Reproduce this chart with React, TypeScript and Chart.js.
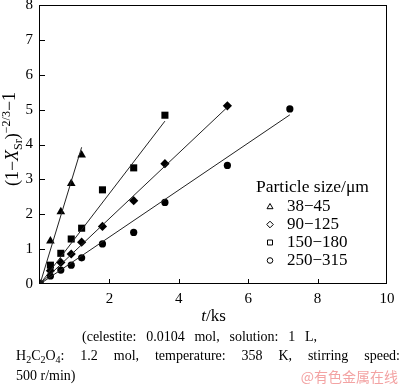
import React, { useEffect, useRef } from "react";
import { Chart, registerables } from "chart.js";

Chart.register(...registerables);

// ---- data ----
const timeKs = [0, 0.3, 0.6, 0.9, 1.2, 1.8, 2.7, 3.6, 5.4, 7.2];
const size38_45 = [0, 1.23, 2.07, 2.88, 3.7];
const size90_125 = [0, 0.38, 0.62, 0.86, 1.2, 1.65, 2.39, 3.45, 5.11];
const size150_180 = [0, 0.54, 0.88, 1.29, 1.6, 2.7, 3.33, 4.84];
const size250_315 = [0, 0.23, 0.4, 0.54, 0.75, 1.15, 1.48, 2.34, 3.4, 5.02];
const seriesLabels = ["38\u221245", "90\u2212125", "150\u2212180", "250\u2212315"];
// fitted straight lines: start at origin, end points
const fitEndX = [1.2, 5.4, 3.6, 7.2];
const fitEndY = [3.92, 5.07, 4.67, 4.85];
const xTicks = [0, 2, 4, 6, 8, 10];
const yTicks = [0, 1, 2, 3, 4, 5, 6, 7, 8];

const SERIF = "'Liberation Serif', 'Times New Roman', serif";

export default function App() {
  const ref = useRef<HTMLCanvasElement>(null);

  useEffect(() => {
    const canvas = ref.current;
    if (!canvas) return;
    const series = [size38_45, size90_125, size150_180, size250_315];
    const shapes = ["triangle", "rectRot", "rect", "circle"];
    const radii = [5, 4.6, 5, 3.6];

    const pointSets = series.map((ys, i) => ({
      label: seriesLabels[i],
      data: ys.map((y, k) => ({ x: timeKs[k], y })),
      showLine: false,
      pointStyle: shapes[i],
      pointRadius: radii[i],
      pointBackgroundColor: "#000",
      pointBorderColor: "#000",
      pointBorderWidth: 0,
    }));
    const lineSets = series.map((_, i) => ({
      label: "fit " + seriesLabels[i],
      data: [
        { x: 0, y: 0 },
        { x: fitEndX[i], y: fitEndY[i] },
      ],
      showLine: true,
      borderColor: "#222",
      borderWidth: 1,
      pointRadius: 0,
    }));

    const overlay = {
      id: "overlay",
      afterDraw(chart: any) {
        const { ctx, chartArea: a, scales } = chart;
        const xs = scales.x;
        const ys = scales.y;
        const L = Math.round(a.left);
        const R = Math.round(a.right);
        const T = Math.round(a.top);
        const B = Math.round(a.bottom);
        ctx.save();
        ctx.strokeStyle = "#000";
        ctx.lineWidth = 1;
        ctx.strokeRect(L - 0.5, T + 0.5, R - L, B - T - 1);
        // inward ticks
        ctx.beginPath();
        xTicks.forEach((v) => {
          if (v === 0 || v === 10) return;
          const px = Math.round(xs.getPixelForValue(v)) + 0.5;
          ctx.moveTo(px, B);
          ctx.lineTo(px, B - 5);
        });
        yTicks.forEach((v) => {
          if (v === 0 || v === 8) return;
          const py = Math.round(ys.getPixelForValue(v)) + 0.5;
          ctx.moveTo(L, py);
          ctx.lineTo(L + 5, py);
        });
        ctx.stroke();

        ctx.fillStyle = "#000";
        // x-axis title: t/ks
        const f17 = "17px " + SERIF;
        const f17i = "italic 17px " + SERIF;
        ctx.textBaseline = "alphabetic";
        ctx.font = f17i;
        const wT = ctx.measureText("t").width;
        ctx.font = f17;
        const wKs = ctx.measureText("/ks").width;
        const cx = (L + R) / 2;
        const sx = cx - (wT + wKs) / 2;
        ctx.font = f17i;
        ctx.fillText("t", sx, 321);
        ctx.font = f17;
        ctx.fillText("/ks", sx + wT, 321);

        // y-axis title: (1−X_Sr)^−2/3 −1
        const f18 = "18px " + SERIF;
        const f18i = "italic 18px " + SERIF;
        const segs = [
          { t: "(1\u2212", f: f18, dy: 0 },
          { t: "X", f: f18i, dy: 0 },
          { t: "Sr", f: "12px " + SERIF, dy: 4 },
          { t: ")", f: f18, dy: 0 },
          { t: "\u22122/3", f: "12px " + SERIF, dy: -8 },
          { t: "\u22121", f: f18, dy: -3 },
        ];
        let total = 0;
        const widths = segs.map((s) => {
          ctx.font = s.f;
          const w = ctx.measureText(s.t).width;
          total += w;
          return w;
        });
        ctx.save();
        ctx.translate(18, 139);
        ctx.rotate(-Math.PI / 2);
        let px = -total / 2;
        segs.forEach((s, i) => {
          ctx.font = s.f;
          ctx.fillText(s.t, px, s.dy);
          px += widths[i];
        });
        ctx.restore();

        // legend
        ctx.font = "17.5px " + SERIF;
        ctx.fillText("Particle size/\u03bcm", 256, 192);
        const rowBase = [211, 229, 247, 265];
        ctx.font = "17px " + SERIF;
        ctx.lineWidth = 1;
        ctx.strokeStyle = "#000";
        rowBase.forEach((by, i) => {
          ctx.fillText(seriesLabels[i], 287, by);
          const mx = 270;
          const my = by - 4.5;
          ctx.beginPath();
          if (i === 0) {
            ctx.moveTo(mx, my - 3);
            ctx.lineTo(mx + 3, my + 2.2);
            ctx.lineTo(mx - 3, my + 2.2);
            ctx.closePath();
          } else if (i === 1) {
            ctx.moveTo(mx, my - 3.3);
            ctx.lineTo(mx + 3.3, my);
            ctx.lineTo(mx, my + 3.3);
            ctx.lineTo(mx - 3.3, my);
            ctx.closePath();
          } else if (i === 2) {
            ctx.rect(mx - 2.5, my - 2.5, 5, 5);
          } else {
            ctx.arc(mx, my, 2.8, 0, Math.PI * 2);
          }
          ctx.stroke();
        });
        ctx.restore();
      },
    };

    const chart = new Chart(canvas, {
      type: "scatter",
      data: { datasets: [...lineSets, ...pointSets] as any },
      options: {
        animation: false,
        responsive: false,
        events: [],
        layout: { padding: { top: 4, right: 13, left: 0, bottom: 0 } },
        plugins: {
          legend: { display: false },
          tooltip: { enabled: false },
        },
        scales: {
          x: {
            type: "linear",
            min: 0,
            max: 10,
            afterFit: (s: any) => {
              s.height = 46;
              s.paddingLeft = 0;
              s.paddingRight = 0;
            },
            afterBuildTicks: (s: any) => {
              s.ticks = xTicks.map((v) => ({ value: v }));
            },
            grid: { display: false, drawTicks: false },
            border: { display: false },
            ticks: {
              padding: 6,
              color: "#000",
              font: { family: SERIF, size: 15 },
              maxRotation: 0,
              callback: (v: any) => (v === 0 ? "" : String(v)),
            },
          },
          y: {
            type: "linear",
            min: 0,
            max: 8,
            afterFit: (s: any) => {
              s.width = 40;
              s.paddingTop = 0;
              s.paddingBottom = 0;
            },
            afterBuildTicks: (s: any) => {
              s.ticks = yTicks.map((v) => ({ value: v }));
            },
            grid: { display: false, drawTicks: false },
            border: { display: false },
            ticks: {
              padding: 7,
              color: "#000",
              font: { family: SERIF, size: 15 },
              callback: (v: any) => String(v),
            },
          },
        },
      },
      plugins: [overlay],
    });
    return () => chart.destroy();
  }, []);

  const cap: React.CSSProperties = {
    position: "absolute",
    fontFamily: SERIF,
    fontSize: 14,
    lineHeight: "20px",
    color: "#000",
    whiteSpace: "nowrap",
  };
  const just: React.CSSProperties = {
    ...cap,
    whiteSpace: "normal",
    textAlign: "justify",
    textAlignLast: "justify" as any,
  };
  const sub: React.CSSProperties = { fontSize: 10, verticalAlign: "-3px", lineHeight: 0 };

  return (
    <div style={{ position: "absolute", left: 0, top: 0, width: 400, height: 388, background: "#fff", overflow: "hidden" }}>
      <canvas ref={ref} width={400} height={330} style={{ position: "absolute", left: 0, top: 0 }} />
      <div style={{ ...just, left: 82, top: 327, width: 235 }}>
        (celestite: 0.0104 mol, solution: 1 L,
      </div>
      <div style={{ ...just, left: 16, top: 346, width: 384 }}>
        H<sub style={sub}>2</sub>C<sub style={sub}>2</sub>O<sub style={sub}>4</sub>: 1.2 mol, temperature: 358 K, stirring speed:
      </div>
      <div style={{ ...cap, left: 16, top: 366 }}>500 r/min)</div>
      <div
        style={{
          position: "absolute",
          right: 2,
          top: 366,
          fontFamily: "'Noto Sans CJK SC', sans-serif",
          fontSize: 14,
          lineHeight: "20px",
          color: "#f3a3a3",
          whiteSpace: "nowrap",
        }}
      >
        @有色金属在线
      </div>
    </div>
  );
}
